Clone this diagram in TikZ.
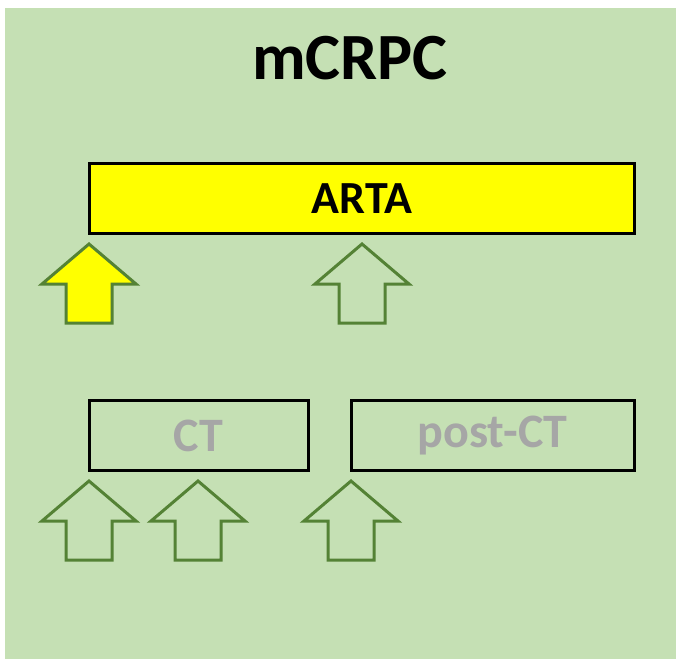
\documentclass[tikz,border=0pt]{standalone}
\usepackage{fontspec}
\setmainfont{Carlito}
\definecolor{panelgreen}{HTML}{C5E0B4}
\definecolor{arrowgreen}{HTML}{548235}
\definecolor{labelgray}{HTML}{A6A6A6}
\definecolor{brightyellow}{HTML}{FFFF00}
\tikzset{
  x=1pt, y=-1pt,
  stagebox/.style={draw=black, line width=3pt, inner sep=0pt},
  stagelabel/.style={font=\bfseries\fontsize{48}{52}\selectfont, text=labelgray},
  uparrow/.pic={
    \filldraw[draw=arrowgreen, fill=#1, line width=3pt, line join=miter]
      (0,0) -- (47,40) -- (23,40) -- (23,79) -- (-23,79) -- (-23,40) -- (-47,40) -- cycle;
  }
}
\begin{document}
\begin{tikzpicture}
  \useasboundingbox (0,0) rectangle (676,659);
  \fill[panelgreen] (5,8) rectangle (676,659);

  % title
  \node[font=\bfseries\fontsize{66}{70}\selectfont] (title) at (350,58) {mCRPC};

  % upper stage
  \draw[stagebox, fill=brightyellow] (89,163) rectangle (634,233);
  \node[font=\bfseries\fontsize{46}{50}\selectfont] (arta) at (362,199) {ARTA};
  \pic at (89,244) {uparrow=brightyellow};
  \pic at (362,244) {uparrow=panelgreen};

  % lower stages
  \draw[stagebox] (89,400) rectangle (308,470);
  \node[stagelabel] (ct) at (198.5,436) {CT};
  \draw[stagebox] (351,400) rectangle (634,470);
  \node[stagelabel] (postct) at (492.5,436) {post-CT};
  \pic at (89,481) {uparrow=panelgreen};
  \pic at (198,481) {uparrow=panelgreen};
  \pic at (351,481) {uparrow=panelgreen};
\end{tikzpicture}
\end{document}
